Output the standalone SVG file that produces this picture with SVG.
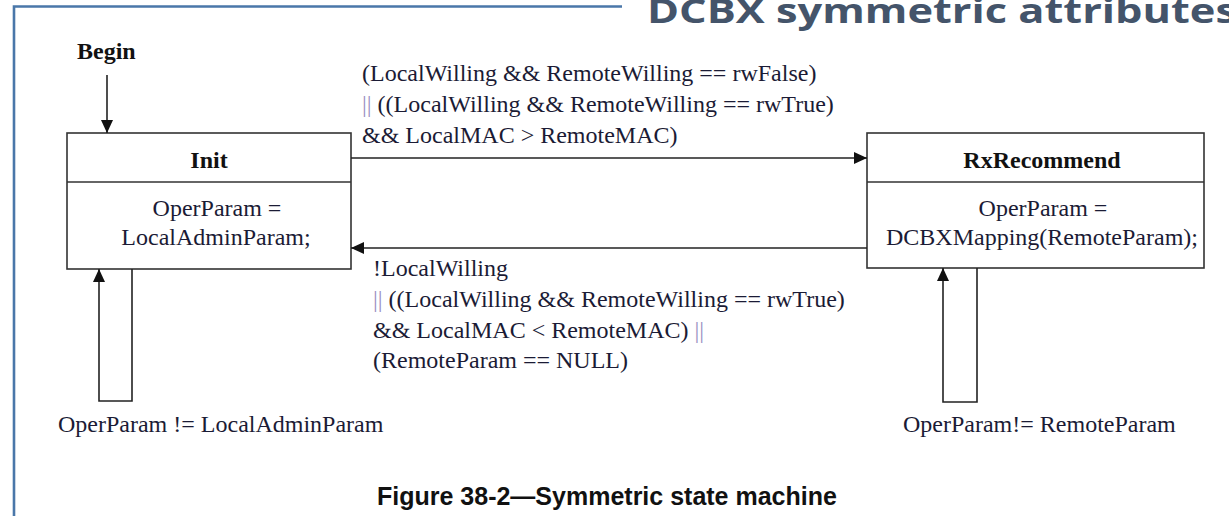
<svg xmlns="http://www.w3.org/2000/svg" width="1229" height="516" viewBox="0 0 1229 516">
  <style>
    .frame { fill: none; stroke: #4a77a9; stroke-width: 2.6; }
    .title { font-family: "Open Sans", "Noto Sans", sans-serif; font-weight: 700; font-size: 34px; fill: #44546a; }
    .box { fill: #ffffff; stroke: #333333; stroke-width: 1.6; }
    .div { stroke: #333333; stroke-width: 1.6; }
    .edge { fill: none; stroke: #222222; stroke-width: 1.6; }
    .t { font-family: "Liberation Serif", "Times New Roman", serif; font-size: 24px; fill: #1b1b35; }
    .b { font-weight: 700; fill: #111111; }
    .mid { text-anchor: middle; }
    .or { fill: #9a8fc2; }
    .cap { font-family: "Liberation Sans", Arial, sans-serif; font-weight: 700; font-size: 25px; fill: #111111; }
  </style>
  <defs>
    <marker id="arrow" markerUnits="userSpaceOnUse" markerWidth="14" markerHeight="12" refX="13" refY="6" orient="auto">
      <path d="M0,0 L13,6 L0,12 z" fill="#111111"/>
    </marker>
  </defs>

  <!-- page frame and heading -->
  <g id="frame">
    <path class="frame" d="M14,516 V6.5 H622"/>
    <text class="title" x="647" y="22.5" textLength="590" lengthAdjust="spacingAndGlyphs">DCBX symmetric attributes</text>
  </g>

  <!-- entry point -->
  <g id="begin">
    <text class="t b" x="77" y="59">Begin</text>
  </g>

  <!-- state: Init -->
  <g id="init">
    <rect class="box" x="67" y="133" width="284" height="136"/>
    <line class="div" x1="67" y1="182" x2="351" y2="182"/>
    <text class="t b mid" x="209" y="168">Init</text>
    <text class="t mid" x="217" y="216">OperParam =</text>
    <text class="t mid" x="216" y="245">LocalAdminParam;</text>
  </g>

  <!-- state: RxRecommend -->
  <g id="rxrecommend">
    <rect class="box" x="867" y="133" width="337" height="135"/>
    <line class="div" x1="867" y1="182" x2="1204" y2="182"/>
    <text class="t b mid" x="1042" y="168">RxRecommend</text>
    <text class="t mid" x="1043" y="216">OperParam =</text>
    <text class="t mid" x="1042" y="245">DCBXMapping(RemoteParam);</text>
  </g>

  <!-- transitions -->
  <g id="connectors">
    <line class="edge" x1="107" y1="75" x2="107" y2="133" marker-end="url(#arrow)"/>
    <line class="edge" x1="351" y1="158" x2="867" y2="158" marker-end="url(#arrow)"/>
    <line class="edge" x1="867" y1="248" x2="351" y2="248" marker-end="url(#arrow)"/>
    <path class="edge" d="M132,269 V401 H99 V269" marker-end="url(#arrow)"/>
    <path class="edge" d="M977,268 V402 H943 V268" marker-end="url(#arrow)"/>
  </g>

  <!-- transition conditions -->
  <g id="labels">
    <text class="t" x="362" y="81">(LocalWilling &amp;&amp; RemoteWilling  == rwFalse)</text>
    <text class="t" x="362" y="112"><tspan class="or">||</tspan> ((LocalWilling &amp;&amp; RemoteWilling == rwTrue)</text>
    <text class="t" x="362" y="143">&amp;&amp; LocalMAC &gt; RemoteMAC)</text>

    <text class="t" x="373" y="276">!LocalWilling</text>
    <text class="t" x="373" y="307"><tspan class="or">||</tspan> ((LocalWilling &amp;&amp; RemoteWilling == rwTrue)</text>
    <text class="t" x="373" y="338">&amp;&amp; LocalMAC &lt; RemoteMAC) <tspan class="or">||</tspan></text>
    <text class="t" x="373" y="368">(RemoteParam == NULL)</text>

    <text class="t" x="58" y="432">OperParam != LocalAdminParam</text>
    <text class="t" x="903" y="432">OperParam!= RemoteParam</text>
  </g>

  <!-- figure caption -->
  <g id="caption">
    <text class="cap" x="377" y="505">Figure 38-2—Symmetric state machine</text>
  </g>
</svg>
